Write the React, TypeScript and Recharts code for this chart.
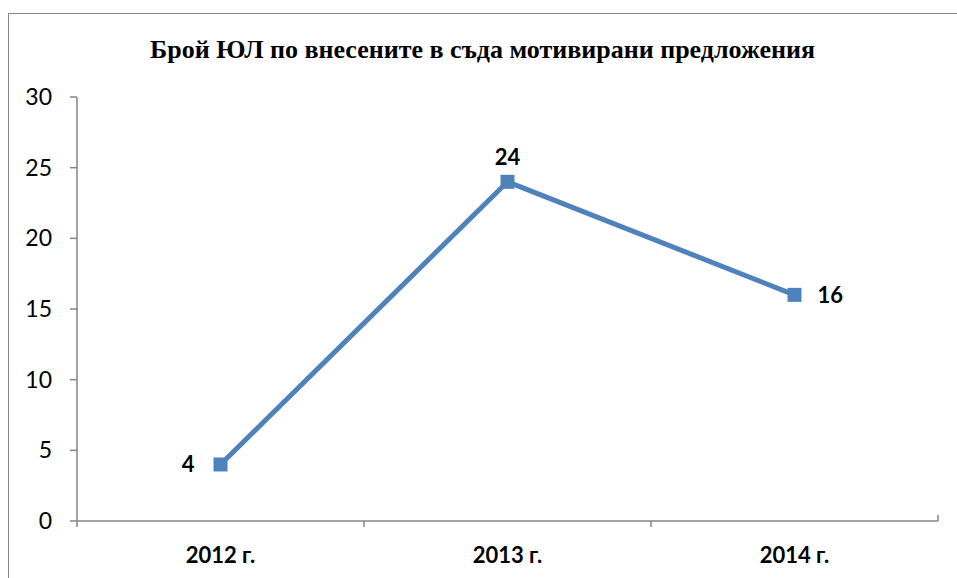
import { LabelList, Line, LineChart, XAxis, YAxis } from "recharts";

const years = ["2012 г.", "2013 г.", "2014 г."];
const counts = [4, 24, 16];
const yTicks = [0, 5, 10, 15, 20, 25, 30];
const labelSides = ["left", "top", "right"];

const data = years.map((year, i) => ({ year, count: counts[i] }));

const W = 957;
const H = 578;
const LEFT = 77;
const RIGHT = 938;
const BAND = (RIGHT - LEFT) / years.length;
const AXIS_COLOR = "#868686";
const LINE_COLOR = "#4F81BD";
const SANS = "Lato, 'Open Sans', sans-serif";

const XTick = (props: any) => {
  const { x, y, payload, index } = props;
  const last = index === years.length - 1;
  return (
    <g>
      <line x1={x - BAND / 2} y1={y} x2={x - BAND / 2} y2={y + 6} stroke={AXIS_COLOR} strokeWidth={1.5} />
      {last && (
        <line x1={x + BAND / 2} y1={y - 6} x2={x + BAND / 2} y2={y} stroke={AXIS_COLOR} strokeWidth={1.5} />
      )}
      <text x={x} y={y + 42} textAnchor="middle" fontFamily={SANS} fontWeight="bold" fontSize={22} fill="#000">
        {payload.value}
      </text>
    </g>
  );
};

const PointLabel = (props: any) => {
  const { x, y, value, index } = props;
  const side = labelSides[index];
  let tx = x;
  let ty = y + 8;
  let anchor: "start" | "middle" | "end" = "middle";
  if (side === "left") {
    tx = x - 26;
    anchor = "end";
  } else if (side === "right") {
    tx = x + 23;
    anchor = "start";
  } else {
    ty = y - 17;
  }
  return (
    <text x={tx} y={ty} textAnchor={anchor} fontFamily={SANS} fontWeight="bold" fontSize={22} fill="#000">
      {value}
    </text>
  );
};

const Square = (props: any) => {
  const { cx, cy } = props;
  return <rect x={cx - 7} y={cy - 7} width={14} height={14} fill={LINE_COLOR} />;
};

export default function App() {
  return (
    <div style={{ position: "absolute", left: 0, top: 0, width: W, height: H, background: "#fff" }}>
      <div
        style={{
          position: "absolute",
          left: 8,
          top: 13,
          width: W - 8,
          height: H - 13,
          borderLeft: `1.5px solid ${AXIS_COLOR}`,
          borderTop: `1.5px solid ${AXIS_COLOR}`,
        }}
      />
      <svg width={W} height={80} style={{ position: "absolute", left: 0, top: 0 }}>
        <text
          x={482.5}
          y={58}
          textAnchor="middle"
          fontFamily="'Liberation Serif', 'Times New Roman', serif"
          fontWeight="bold"
          fontSize={26}
          fill="#000"
        >
          Брой ЮЛ по внесените в съда мотивирани предложения
        </text>
      </svg>
      <div style={{ position: "absolute", left: 0, top: 0 }}>
        <LineChart width={W} height={H} data={data} margin={{ top: 97, right: W - RIGHT, bottom: 17, left: 17 }}>
          <XAxis
            dataKey="year"
            padding={{ left: BAND / 2, right: BAND / 2 }}
            axisLine={{ stroke: AXIS_COLOR, strokeWidth: 1.5 }}
            tickLine={false}
            tickSize={0}
            tickMargin={0}
            height={40}
            tick={<XTick />}
            interval={0}
          />
          <YAxis
            domain={[0, 30]}
            ticks={yTicks}
            width={60}
            axisLine={{ stroke: AXIS_COLOR, strokeWidth: 1.5 }}
            tickLine={{ stroke: AXIS_COLOR, strokeWidth: 1.5 }}
            tickSize={7}
            tickMargin={18}
            tick={{ fill: "#000", fontSize: 23, fontFamily: SANS }}
            interval={0}
          />
          <Line
            type="linear"
            dataKey="count"
            stroke={LINE_COLOR}
            strokeWidth={5}
            dot={<Square />}
            activeDot={false}
            isAnimationActive={false}
          >
            <LabelList dataKey="count" content={<PointLabel />} />
          </Line>
        </LineChart>
      </div>
    </div>
  );
}
